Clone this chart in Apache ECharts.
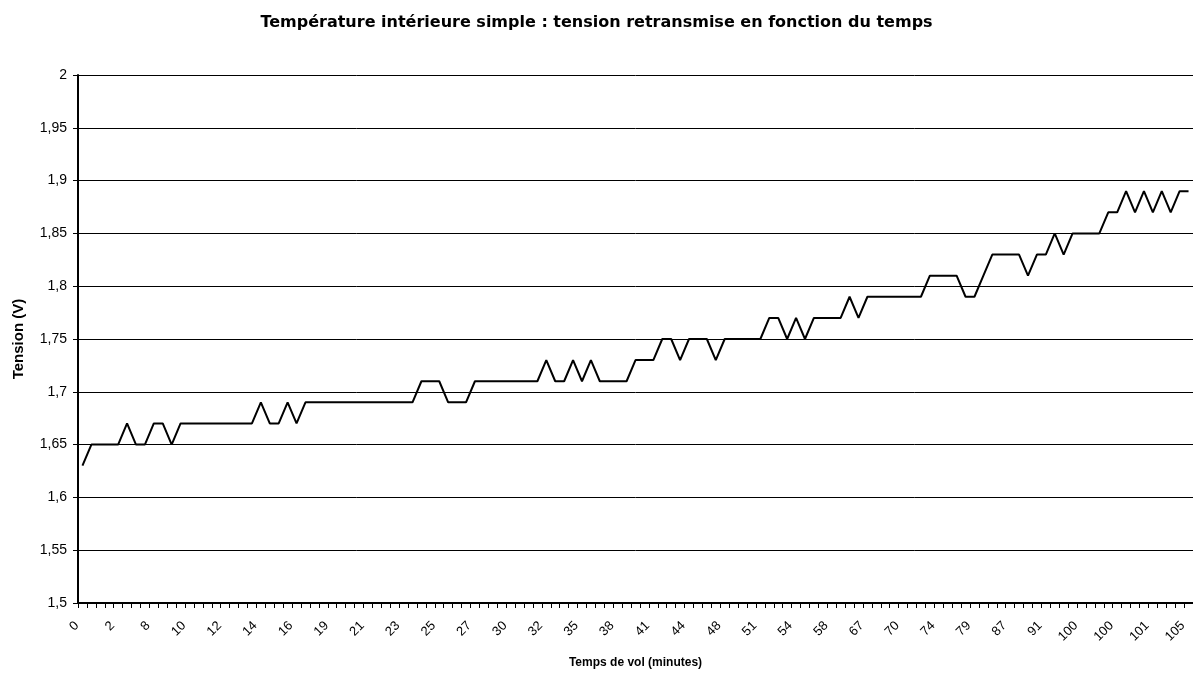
<!DOCTYPE html>
<html>
<head>
<meta charset="utf-8">
<script src="https://cdn.jsdelivr.net/npm/echarts@6/dist/echarts.min.js"></script>
<style>
  html, body { margin: 0; padding: 0; background: #fff; }
  #chart { width: 1193px; height: 675px; }
</style>
</head>
<body>
<div id="chart"></div>
<script>
// Labels shown under every fourth sample on the time axis (minutes)
const tickLabels = ['0', '2', '8', '10', '12', '14', '16', '19', '21', '23', '25', '27',
  '30', '32', '35', '38', '41', '44', '48', '51', '54', '58', '67', '70',
  '74', '79', '87', '91', '100', '100', '101', '105'];
const labelEvery = 4;

// Transmitted voltage (V), one value per sample
const tension = [
  1.63, 1.65, 1.65, 1.65, 1.65, 1.67, 1.65, 1.65, 1.67, 1.67,
  1.65, 1.67, 1.67, 1.67, 1.67, 1.67, 1.67, 1.67, 1.67, 1.67,
  1.69, 1.67, 1.67, 1.69, 1.67, 1.69, 1.69, 1.69, 1.69, 1.69,
  1.69, 1.69, 1.69, 1.69, 1.69, 1.69, 1.69, 1.69, 1.71, 1.71,
  1.71, 1.69, 1.69, 1.69, 1.71, 1.71, 1.71, 1.71, 1.71, 1.71,
  1.71, 1.71, 1.73, 1.71, 1.71, 1.73, 1.71, 1.73, 1.71, 1.71,
  1.71, 1.71, 1.73, 1.73, 1.73, 1.75, 1.75, 1.73, 1.75, 1.75,
  1.75, 1.73, 1.75, 1.75, 1.75, 1.75, 1.75, 1.77, 1.77, 1.75,
  1.77, 1.75, 1.77, 1.77, 1.77, 1.77, 1.79, 1.77, 1.79, 1.79,
  1.79, 1.79, 1.79, 1.79, 1.79, 1.81, 1.81, 1.81, 1.81, 1.79,
  1.79, 1.81, 1.83, 1.83, 1.83, 1.83, 1.81, 1.83, 1.83, 1.85,
  1.83, 1.85, 1.85, 1.85, 1.85, 1.87, 1.87, 1.89, 1.87, 1.89,
  1.87, 1.89, 1.87, 1.89, 1.89
];

// Voltage axis range
const yMin = 1.5, yMax = 2, yStep = 0.05;

// One category per sample; only every fourth carries a label
const categories = tension.map((_, i) =>
  i % labelEvery === 0 ? (tickLabels[i / labelEvery] || '') : '');

const font = '"Liberation Sans", Arial, sans-serif';
const chart = echarts.init(document.getElementById('chart'));

chart.setOption({
  animation: false,
  backgroundColor: '#fff',
  title: {
    text: 'Température intérieure simple : tension retransmise en fonction du temps',
    left: 'center',
    top: 10,
    textStyle: { fontFamily: '"DejaVu Sans", sans-serif', fontSize: 16, fontWeight: 'bold', color: '#000' }
  },
  grid: { left: 78, top: 75, width: 1116, height: 528, containLabel: false },
  xAxis: {
    type: 'category',
    data: categories,
    boundaryGap: true,
    name: 'Temps de vol (minutes)',
    nameLocation: 'middle',
    nameGap: 54,
    nameTextStyle: { fontFamily: font, fontSize: 12, fontWeight: 'bold', color: '#000' },
    axisLine: { lineStyle: { color: '#000', width: 2 } },
    axisTick: { show: true, interval: 0, length: 5, lineStyle: { color: '#000', width: 1 } },
    axisLabel: {
      interval: labelEvery - 1,
      rotate: 45,
      margin: 15,
      padding: [0, 8, 0, 0],
      fontFamily: font,
      fontSize: 13,
      color: '#000'
    },
    splitLine: { show: false }
  },
  yAxis: {
    type: 'value',
    min: yMin,
    max: yMax,
    interval: yStep,
    name: 'Tension (V)',
    nameLocation: 'middle',
    nameGap: 52,
    nameRotate: 90,
    nameTextStyle: { fontFamily: font, fontSize: 15, fontWeight: 'bold', color: '#000' },
    axisLine: { show: true, lineStyle: { color: '#000', width: 2 } },
    axisTick: { show: true, length: 5, lineStyle: { color: '#000', width: 1 } },
    axisLabel: {
      margin: 11,
      fontFamily: font,
      fontSize: 14,
      color: '#000',
      formatter: v => String(+v.toFixed(2)).replace('.', ',')
    },
    splitLine: { show: true, lineStyle: { color: '#000', width: 1 } }
  },
  series: [{
    type: 'line',
    data: tension,
    showSymbol: false,
    symbol: 'none',
    lineStyle: { color: '#000', width: 2 },
    emphasis: { disabled: true }
  }]
});
</script>
</body>
</html>
